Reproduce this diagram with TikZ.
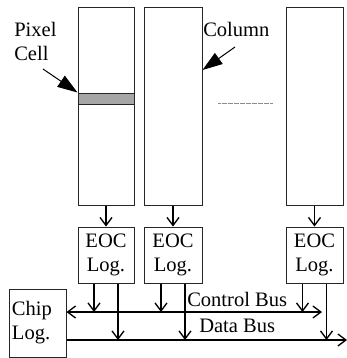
\documentclass[tikz,border=0pt]{standalone}
\usepackage{fontspec}
\setmainfont{Liberation Serif}
\usetikzlibrary{arrows.meta}

\tikzset{
  box/.style={draw=black!85, line width=0.75pt, inner sep=0pt},
  lbl/.style={inner sep=0.75pt, align=left, font=\fontsize{15.4}{18}\selectfont},
  sig/.style={line width=1pt, -{Straight Barb[length=6pt,width=9pt]}},
  pointer/.style={line width=0.75pt, -{Triangle[length=15pt,width=10pt]}},
}

\begin{document}
\begin{tikzpicture}[x=0.75pt,y=0.75pt,yscale=-1,xscale=1]
\useasboundingbox (0,0) rectangle (347,358);

%Shape: Rectangle [columns]
\node[box, minimum width=42pt, minimum height=148.5pt] (col1) at (106,106) {};
\node[box, minimum width=43.5pt, minimum height=148.5pt] (col2) at (173,106) {};
\node[box, minimum width=42.75pt, minimum height=148.5pt] (col3) at (314.5,106) {};
%Shape: Rectangle [pixel cell]
\node[box, fill=black!35, minimum width=42pt, minimum height=8.25pt] (pixcell) at (106,98.5) {};
%Shape: Line [dots between columns]
\draw[black!45, dash pattern=on 0.6pt off 0.3pt, line width=0.6pt] (218,103) -- (273,103);

% EOC Logic
\node[box, lbl, align=center, minimum width=42pt, minimum height=42pt] (eoc1) at (106,255) {EOC\\Log.};
\node[box, lbl, align=center, minimum width=43.5pt, minimum height=42pt] (eoc2) at (173,255) {EOC\\Log.};
\node[box, lbl, align=center, minimum width=42.75pt, minimum height=42pt] (eoc3) at (314.5,255) {EOC\\Log.};
% Chip Logic
\node[box, lbl, inner sep=2.25pt, text width=38.25pt, minimum height=51pt] (chip) at (37.5,323) {Chip\\Log.};

% Text Node
\node[lbl, anchor=north west] (pixlbl) at (13,21) {Pixel\\Cell};
% Text Node
\node[lbl, anchor=north west] (collbl) at (202,21) {Column};
% Text Node
\node[lbl, anchor=north west] (ctrllbl) at (186,291) {Control Bus};
% Text Node
\node[lbl, anchor=north west] (datalbl) at (198,318) {Data Bus};

% pointers
\coordinate (pixtail) at (43,69);
\coordinate (coltail) at (235,47);
\draw[pointer] (pixtail) -- (pixcell.north west);
\draw[pointer] (coltail) -- ([yshift=-27pt]col2.east);

% column readout
\foreach \i in {1,2,3}
  \draw[sig] (col\i) -- (eoc\i);

% buses
\coordinate (ctrlend) at (322,312);
\coordinate (dataend) at (347,340);
\draw[sig, {Straight Barb[length=6pt,width=9pt]}-{Straight Barb[length=6pt,width=9pt]}] (chip.east |- ctrlend) -- (ctrlend);
\draw[sig] (chip.east |- dataend) -- (dataend);
\foreach \i in {1,2,3} {
  \draw[sig] ([xshift=-9pt]eoc\i.south) -- ([xshift=-9pt]eoc\i.south |- ctrlend);
  \draw[sig] ([xshift=9pt]eoc\i.south) -- ([xshift=9pt]eoc\i.south |- dataend);
}

\end{tikzpicture}
\end{document}
